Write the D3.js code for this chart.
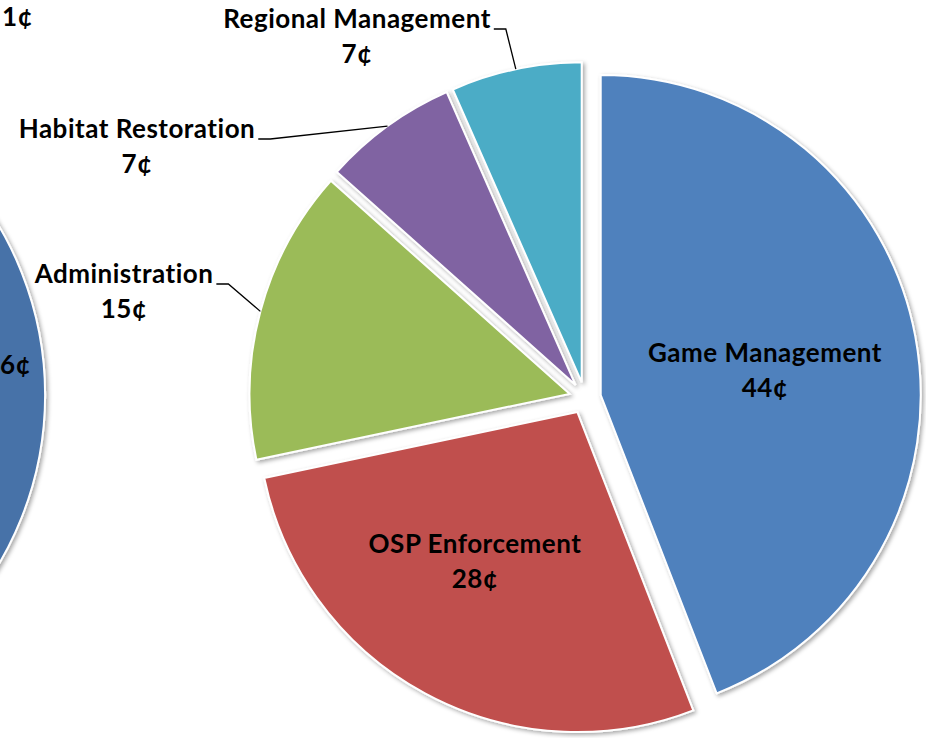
<!DOCTYPE html>
<html>
<head>
<meta charset="utf-8">
<script src="https://cdn.jsdelivr.net/npm/d3@7"></script>
<style>
  body { margin: 0; background: #fff; }
  svg { display: block; }
  text { font-family: Lato, "Open Sans", sans-serif; font-weight: bold; fill: #000; letter-spacing: 0.5px; }
</style>
</head>
<body>
<div id="chart"></div>
<script>
// budget shares (cents per dollar), clockwise from 12 o'clock
var categories = ["Game Management", "OSP Enforcement", "Administration", "Habitat Restoration", "Regional Management"];
var shares = [44.1, 27.6, 14.9, 6.8, 6.6];
var colors = ["#4F81BD", "#C0504D", "#9BBB59", "#8064A2", "#4BACC6"];

// second pie, mostly cropped off at the left edge
var leftLabels = ["6¢", "1¢"];

var width = 926, height = 738;
var cx = 585, cy = 398, radius = 320, explode = 16;
var fontSize = "26px";

var svg = d3.select("#chart").append("svg")
  .attr("width", width)
  .attr("height", height);

var defs = svg.append("defs");
var shadow = defs.append("filter").attr("id", "shadow")
  .attr("x", "-10%").attr("y", "-10%").attr("width", "120%").attr("height", "120%");
shadow.append("feDropShadow")
  .attr("dx", 2).attr("dy", 2).attr("stdDeviation", 2)
  .attr("flood-color", "#000").attr("flood-opacity", 0.35);

// cropped pie on the left
var leftArc = d3.arc().innerRadius(0).outerRadius(332);
svg.append("path")
  .attr("transform", "translate(-287,395)")
  .attr("d", leftArc({ startAngle: 0, endAngle: 2 * Math.PI }))
  .attr("fill", "#4672A8")
  .attr("stroke", "#fff")
  .attr("stroke-width", 2)
  .attr("filter", "url(#shadow)");

svg.append("text").attr("x", 0).attr("y", 374).style("font-size", fontSize).text(leftLabels[0]);
svg.append("text").attr("x", 2).attr("y", 26).style("font-size", fontSize).text(leftLabels[1]);

// main pie
var pie = d3.pie().sort(null).value(function (d) { return d; });
var arcs = pie(shares);
var arc = d3.arc().innerRadius(0).outerRadius(radius);
var rimArc = d3.arc().innerRadius(radius).outerRadius(radius);

function offset(d) {
  var a = (d.startAngle + d.endAngle) / 2;
  return [Math.sin(a) * explode, -Math.cos(a) * explode];
}

var g = svg.append("g").attr("transform", "translate(" + cx + "," + cy + ")");

g.selectAll("path.slice")
  .data(arcs)
  .join("path")
  .attr("class", "slice")
  .attr("transform", function (d) { var o = offset(d); return "translate(" + o[0] + "," + o[1] + ")"; })
  .attr("d", arc)
  .attr("fill", function (d, i) { return colors[i]; })
  .attr("stroke", "#fff")
  .attr("stroke-width", 2)
  .attr("filter", "url(#shadow)");

// label placement (absolute page coords of label centre / first baseline)
var labelPos = [
  { x: 765, y: 362, inside: true },
  { x: 475, y: 553, inside: true },
  { x: 124, y: 283, inside: false },
  { x: 137, y: 138, inside: false },
  { x: 357, y: 28, inside: false }
];

var labels = svg.append("g");
arcs.forEach(function (d, i) {
  var p = labelPos[i];
  var t = labels.append("text")
    .attr("text-anchor", "middle")
    .style("font-size", fontSize);
  t.append("tspan").attr("x", p.x).attr("y", p.y).text(categories[i]);
  t.append("tspan").attr("x", p.x).attr("y", p.y + 35).text(Math.round(d.value) + "¢");

  if (!p.inside) {
    var w = t.select("tspan").node().getComputedTextLength();
    var o = offset(d);
    var rim = rimArc.centroid(d);
    var x0 = p.x + w / 2 + 3;
    labels.append("path")
      .attr("d", d3.line()([
        [x0, p.y + 1],
        [x0 + 12, p.y + 1],
        [cx + o[0] + rim[0], cy + o[1] + rim[1]]
      ]))
      .attr("fill", "none")
      .attr("stroke", "#000")
      .attr("stroke-width", 1.3);
  }
});
</script>
</body>
</html>
